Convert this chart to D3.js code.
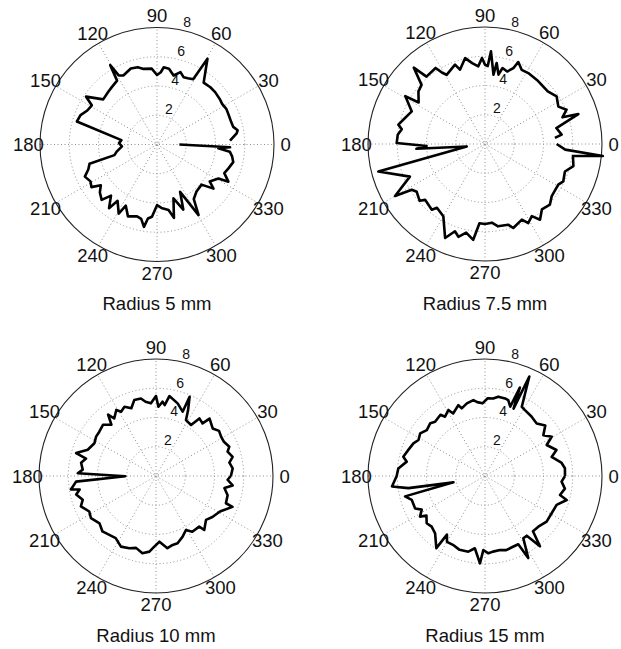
<!DOCTYPE html>
<html>
  <head>
    <meta charset="UTF-8" />
    <script src="https://d3js.org/d3.v7.min.js"></script>
    <style>
      body { margin: 0; background: #fff; }
      text { font-family: "Liberation Sans", Arial, sans-serif; fill: #111; }
    </style>
  </head>
  <body>
    <div id="chart"></div>
    <script>
      // angle (degrees, counter-clockwise from 0) and radius
      const titles = ["Radius 5 mm", "Radius 7.5 mm", "Radius 10 mm", "Radius 15 mm"];
      const angleTicks = [0, 30, 60, 90, 120, 150, 180, 210, 240, 270, 300, 330];
      const radiusTicks = [2, 4, 6, 8];

      const angles5 = [3, 8, 10, 13, 17, 22, 27, 32, 36, 42, 47, 53, 59.5, 61, 65, 68.5, 72, 76.5, 81, 85, 87, 90, 94, 100, 104, 109, 116, 119, 120.5, 122, 128, 133, 140, 146, 149, 154, 159, 164, 173, 178, 183, 190, 194, 196, 200, 204, 209, 213, 216, 220, 225, 228, 233, 235, 241, 243, 248, 254.5, 258, 261, 263, 266, 270, 274, 280, 283, 287, 292, 296, 300.5, 304, 310, 318, 322, 325, 331, 332.5, 337, 341.5, 347, 351, 354.4, 356.5, 357.8, 360];
      const r5 = [5.0, 5.5, 5.6, 5.35, 5.3, 5.3, 5.33, 5.25, 5.3, 5.35, 5.35, 5.3, 6.8, 5.1, 5.0, 4.95, 5.2, 4.85, 5.25, 5.3, 4.95, 4.75, 5.2, 5.25, 5.45, 5.5, 5.25, 5.4, 6.3, 5.15, 5.0, 4.9, 4.8, 5.85, 5.2, 5.3, 5.6, 5.7, 2.45, 2.6, 2.4, 2.8, 3.0, 4.8, 5.0, 5.4, 5.2, 5.35, 4.75, 5.1, 5.35, 4.7, 5.45, 4.7, 5.4, 4.7, 5.3, 5.1, 5.2, 5.7, 5.1, 4.95, 4.15, 4.35, 4.55, 5.15, 3.85, 4.8, 3.6, 5.6, 4.5, 4.2, 4.1, 4.9, 4.4, 4.8, 5.5, 5.0, 5.15, 5.35, 5.2, 5.0, 4.2, 5.0, 1.53];

      const angles75 = [5, 7, 12.6, 17.8, 19, 22.8, 27, 33.6, 40, 46, 51, 58.6, 63.7, 67.9, 69.5, 73, 77, 79, 81.8, 83, 86.3, 88, 90, 92, 95, 99, 103, 108.6, 110.7, 119, 121, 123, 131, 133, 137, 141.7, 148, 149, 156, 162, 167.4, 170, 174, 179.4, 182, 184, 188, 194.5, 203.5, 210, 212, 215, 221, 223, 231, 233, 240, 247, 251, 254, 258, 263, 266, 270, 275, 279, 286, 288.6, 296, 298.7, 303, 306, 311, 317, 322, 331, 334.5, 341, 346, 352.2, 354.2, 356, 360];
      const r75 = [4.8, 5.28, 5.0, 6.7, 5.6, 6.05, 5.63, 5.88, 5.6, 5.6, 5.64, 5.68, 5.66, 6.05, 5.54, 5.18, 5.33, 4.83, 5.6, 4.77, 6.35, 5.33, 5.42, 5.88, 5.33, 5.6, 6.03, 5.36, 5.8, 5.41, 5.68, 6.2, 6.1, 7.14, 5.93, 5.8, 5.35, 6.36, 5.48, 5.75, 6.07, 5.78, 6.0, 6.04, 4.0, 4.7, 1.26, 7.53, 5.6, 7.1, 5.9, 5.7, 5.92, 5.6, 5.78, 5.46, 5.7, 6.98, 6.31, 6.6, 6.2, 6.6, 5.43, 5.47, 5.4, 5.7, 5.74, 6.06, 5.75, 6.16, 5.88, 6.4, 5.93, 6.07, 5.79, 5.73, 5.93, 5.78, 6.23, 6.07, 8.1, 5.5, 4.9];

      const angles10 = [0, 5.7, 10.3, 14, 18.8, 21.8, 26.7, 31, 35.6, 40, 47, 48.5, 53, 55.5, 61.8, 64, 67, 67.5, 73.4, 80.5, 83, 85, 88, 90, 94, 98, 101, 106, 110, 114.5, 118.5, 121, 126, 128, 131, 136, 142, 146.7, 152, 159, 164, 166, 170, 175, 178, 180.5, 184, 189, 190, 193, 198, 202, 208, 213, 220, 226, 237, 243.6, 249.7, 254.5, 260, 265, 268.6, 273, 279, 283.6, 287.8, 293.7, 299, 303, 310.5, 311.8, 318.7, 324, 331, 338, 338.7, 345, 350, 353, 357, 360];
      const r10 = [5.12, 5.27, 5.1, 5.4, 5.17, 5.4, 5.2, 5.2, 5.3, 5.06, 5.37, 4.8, 4.93, 4.23, 4.34, 5.0, 5.88, 4.76, 5.18, 5.54, 4.88, 5.1, 4.74, 5.47, 4.98, 5.13, 5.4, 5.4, 4.93, 5.2, 5.0, 5.27, 4.86, 5.32, 4.65, 5.04, 4.92, 4.9, 4.77, 5.0, 5.68, 4.93, 5.2, 5.03, 5.35, 2.1, 5.48, 5.89, 5.3, 5.6, 5.27, 5.54, 5.17, 5.3, 5.04, 5.27, 5.06, 5.39, 5.27, 5.1, 5.36, 5.19, 4.83, 4.5, 5.0, 4.85, 4.83, 4.53, 4.22, 4.55, 4.55, 4.95, 4.55, 4.77, 5.0, 5.64, 5.13, 5.07, 4.75, 5.28, 4.9, 5.12];

      const angles15 = [0, 5.5, 10, 16, 20, 26.7, 30.5, 35, 40, 45.5, 52, 58.8, 62, 66, 67, 68.5, 70, 73, 75.5, 80.5, 84, 88, 92, 96, 98.7, 104, 109, 110.6, 117, 119, 124, 126, 132.6, 136, 141.7, 146.7, 151.6, 155.5, 161, 166.7, 169.6, 175, 180, 186.4, 189, 191.4, 194.3, 198, 205, 208, 212, 214, 219, 223.5, 229, 236, 237, 240, 245, 251, 257.6, 262, 266.7, 268.7, 272.5, 276, 281.5, 286, 292, 296, 297.8, 301.6, 305, 308, 311, 316.5, 323.5, 330.8, 338, 343.6, 345.8, 351, 355.8, 360];
      const r15 = [5.47, 5.49, 5.3, 4.74, 5.2, 4.72, 5.29, 4.87, 5.38, 5.04, 5.16, 5.27, 5.36, 7.45, 5.0, 6.5, 5.05, 5.43, 5.48, 5.5, 5.33, 5.32, 4.97, 5.08, 5.25, 5.12, 4.89, 5.18, 4.8, 5.16, 4.89, 5.18, 5.04, 5.2, 5.07, 5.3, 5.17, 5.38, 5.53, 5.74, 5.44, 5.95, 6.04, 6.4, 5.3, 2.2, 5.64, 5.27, 5.27, 4.9, 5.24, 4.83, 5.13, 5.03, 5.2, 5.95, 4.78, 5.2, 5.19, 5.34, 5.3, 4.99, 5.98, 5.06, 5.29, 5.2, 5.16, 5.27, 5.2, 5.19, 6.34, 5.0, 4.98, 6.1, 5.0, 5.03, 5.24, 5.22, 5.28, 5.82, 5.29, 5.53, 5.25, 5.47];

      const series = [[angles5, r5], [angles75, r75], [angles10, r10], [angles15, r15]];

      const width = 621, height = 649;
      const rmax = 8, R = 117;
      const centers = [[157, 144.5], [485, 144], [156, 476], [485, 476]];

      const svg = d3.select("#chart").append("svg")
        .attr("width", width)
        .attr("height", height)
        .style("background", "#fff");

      const r = d3.scaleLinear().domain([0, rmax]).range([0, R]);
      const rad = (deg) => deg * Math.PI / 180;

      const line = d3.lineRadial()
        .angle((d) => Math.PI / 2 - rad(d[0]))
        .radius((d) => r(d[1]))
        .curve(d3.curveLinear);

      series.forEach((s, i) => {
        const [cx, cy] = centers[i];
        const g = svg.append("g").attr("transform", "translate(" + cx + "," + cy + ")");

        // dotted grid circles
        g.selectAll(".ring")
          .data(radiusTicks.filter((v) => v < rmax))
          .join("circle")
          .attr("r", (d) => r(d))
          .attr("fill", "none")
          .attr("stroke", "#8f8f8f")
          .attr("stroke-width", 1)
          .attr("stroke-dasharray", "1,2.5");

        // spokes
        g.selectAll(".spoke")
          .data(angleTicks.filter((a) => a < 180))
          .join("line")
          .attr("x1", (d) => -r(rmax) * Math.cos(rad(d)))
          .attr("y1", (d) => r(rmax) * Math.sin(rad(d)))
          .attr("x2", (d) => r(rmax) * Math.cos(rad(d)))
          .attr("y2", (d) => -r(rmax) * Math.sin(rad(d)))
          .attr("stroke", "#8f8f8f")
          .attr("stroke-width", 1)
          .attr("stroke-dasharray", "1,2.5");

        // outer circle solid
        g.append("circle")
          .attr("r", r(rmax))
          .attr("fill", "none")
          .attr("stroke", "#222")
          .attr("stroke-width", 1.1);

        // radius labels
        g.selectAll(".rlab")
          .data(radiusTicks)
          .join("text")
          .attr("x", (d) => r(d) * Math.cos(rad(78)) + 2)
          .attr("y", (d) => -r(d) * Math.sin(rad(80)) - 2)
          .attr("font-size", "14px")
          .text((d) => d);

        // angle labels
        g.selectAll(".alab")
          .data(angleTicks)
          .join("text")
          .attr("x", (d) => r(rmax * 1.1) * Math.cos(rad(d)))
          .attr("y", (d) => -r(rmax * 1.1) * Math.sin(rad(d)))
          .attr("text-anchor", "middle")
          .attr("dominant-baseline", "central")
          .attr("font-size", "18.5px")
          .text((d) => d);

        // data curve
        const pts = d3.zip(s[0], s[1]);
        g.append("path")
          .datum(pts)
          .attr("d", line)
          .attr("fill", "none")
          .attr("stroke", "#000")
          .attr("stroke-width", 2.6)
          .attr("stroke-linejoin", "round");

        // title
        svg.append("text")
          .attr("x", cx)
          .attr("y", cy + 165.5)
          .attr("text-anchor", "middle")
          .attr("font-size", "18.5px")
          .text(titles[i]);
      });
    </script>
  </body>
</html>
